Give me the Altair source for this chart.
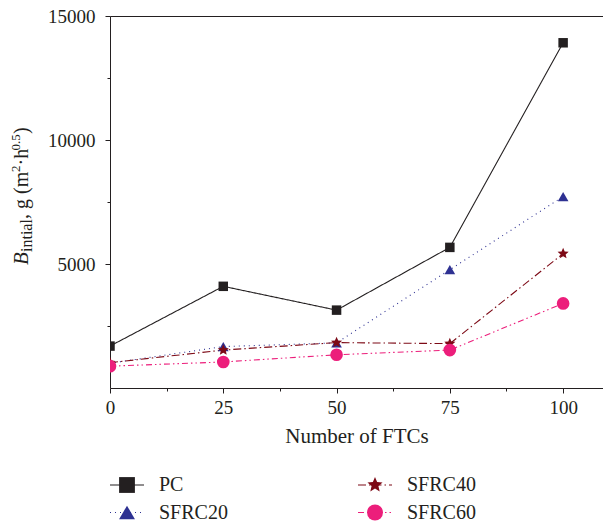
import altair as alt
import pandas as pd

# ---------------- data ----------------
ftc = [0, 25, 50, 75, 100]
series_names = ["PC", "SFRC20", "SFRC40", "SFRC60"]
pc = [1690, 4100, 3140, 5670, 13920]
sfrc20 = [1000, 1670, 1820, 4770, 7720]
sfrc40 = [1020, 1530, 1830, 1790, 5420]
sfrc60 = [880, 1050, 1340, 1530, 3410]

x_ticks = [0, 12.5, 25, 37.5, 50, 62.5, 75, 87.5, 100]
y_ticks = [2500, 5000, 7500, 10000, 12500, 15000]

# ---------------- styles ----------------
FONT = "Liberation Serif"
INK = "#231f20"
colors = ["#231f20", "#2e3192", "#7d0a16", "#ec1e7b"]
STAR = ("M0,-1L0.265,-0.364L0.951,-0.309L0.428,0.139L0.588,0.809L0,0.45"
        "L-0.588,0.809L-0.428,0.139L-0.951,-0.309L-0.265,-0.364Z")
shapes = ["square", "triangle-up", STAR, "circle"]
dashes = [[1, 0], [1, 4], [8, 3, 1.5, 3], [6, 3, 1.5, 3, 1.5, 3]]

df = pd.DataFrame({
    "ftc": ftc * len(series_names),
    "series": [s for s in series_names for _ in ftc],
    "value": pc + sfrc20 + sfrc40 + sfrc60,
})
leg_df = pd.DataFrame({"series": series_names})

color_scale = alt.Scale(domain=series_names, range=colors)
shape_scale = alt.Scale(domain=series_names, range=shapes)
dash_scale = alt.Scale(domain=series_names, range=dashes)
x_scale = alt.Scale(domain=[0, 108.8], nice=False, zero=False)
y_scale = alt.Scale(domain=[0, 15000], nice=False)

color_enc = alt.Color("series:N", scale=color_scale, legend=None)
shape_enc = alt.Shape("series:N", scale=shape_scale, legend=None)
dash_enc = alt.StrokeDash("series:N", scale=dash_scale, legend=None)

x_axis = alt.Axis(
    values=x_ticks, labelExpr="datum.value % 25 == 0 ? datum.label : ''",
    tickSize={"condition": {"test": "datum.value % 25 == 0", "value": 5}, "value": 3},
    grid=False, labelFlush=False, labelOverlap=False,
    domainColor=INK, tickColor=INK, labelColor=INK,
    labelFont=FONT, labelFontSize=19, labelPadding=5,
    title="Number of FTCs", titleFont=FONT, titleFontSize=21,
    titleFontWeight="normal", titleColor=INK, titlePadding=8,
)
y_axis = alt.Axis(
    values=y_ticks, format="d",
    labelExpr="datum.value % 5000 == 0 ? datum.label : ''",
    tickSize={"condition": {"test": "datum.value % 5000 == 0", "value": 5}, "value": 3},
    grid=False, labelFlush=False, labelOverlap=False,
    domainColor=INK, tickColor=INK, labelColor=INK,
    labelFont=FONT, labelFontSize=19, labelPadding=10, title=None,
)

lines = alt.Chart(df).mark_line(strokeWidth=1.1, clip=True).encode(
    x=alt.X("ftc:Q", scale=x_scale, axis=x_axis),
    y=alt.Y("value:Q", scale=y_scale, axis=y_axis),
    color=color_enc,
    strokeDash=dash_enc,
    detail="series:N",
)

points = alt.Chart(df).mark_point(filled=True, opacity=1, clip=True).encode(
    x=alt.X("ftc:Q", scale=x_scale,
            axis=alt.Axis(orient="top", labels=False, ticks=False, domain=True,
                          domainColor=INK, grid=False, title=None)),
    y=alt.Y("value:Q", scale=y_scale, axis=None),
    color=color_enc,
    shape=shape_enc,
    size=alt.Size("series:N", scale=alt.Scale(domain=series_names, range=[90, 160, 190, 110]),
                  legend=None),
)

# ---------------- legend (data-driven) ----------------
leg_base = alt.Chart(leg_df).transform_window(
    idx="row_number()"
).transform_calculate(
    col="floor((datum.idx - 1) / 2)", row="(datum.idx - 1) % 2"
)
x_leg = alt.X("col:Q", scale=alt.Scale(domain=[0, 1], range=[17, 265]), axis=None)
y_leg = alt.Y("row:Q", scale=alt.Scale(domain=[0, 1], range=[469, 496.5]), axis=None)

leg_line = leg_base.mark_point(shape="stroke", size=1156, strokeWidth=1.1,
                               filled=False, opacity=1).encode(
    x=x_leg, y=y_leg, color=color_enc, strokeDash=dash_enc)
leg_mark = leg_base.mark_point(filled=True, opacity=1).encode(
    x=x_leg, y=y_leg, color=color_enc, shape=shape_enc,
    size=alt.Size("series:N", scale=alt.Scale(domain=series_names, range=[250, 256, 200, 240]),
                  legend=None),
)
leg_text = leg_base.mark_text(align="left", baseline="middle", dx=32, dy=0,
                              font=FONT, fontSize=20, color=INK).encode(
    x=x_leg, y=y_leg, text="series:N")

# ---------------- y-axis title pieces (sub/superscripts) ----------------
title_pieces = [
    ("B", 21, "italic", -82, 249),
    ("intial", 16, "normal", -78, 236),
    (", g (m", 20, "normal", -82, 203),
    ("2", 13, "normal", -90, 156),
    ("\u00b7h", 20, "normal", -82, 149.5),
    ("0.5", 13, "normal", -90, 134.5),
    (")", 20, "normal", -82, 118),
]
title_layers = [
    alt.Chart(alt.Data(values=[{}])).mark_text(
        text=t, angle=270, align="left", baseline="alphabetic",
        font=FONT, fontSize=fs, fontStyle=st, color=INK,
    ).encode(x=alt.value(px), y=alt.value(py))
    for t, fs, st, px, py in title_pieces
]

chart = alt.layer(
    lines, points, leg_line, leg_mark, leg_text, *title_layers
).resolve_scale(
    x="independent", y="independent", size="independent"
).properties(
    width=493, height=372,
    autosize=alt.AutoSizeParams(type="none"),
    padding={"left": 110, "top": 16, "right": 0, "bottom": 137},
).configure_view(stroke=None)

chart.save("out.html", embed_options={"renderer": "svg", "actions": False})
